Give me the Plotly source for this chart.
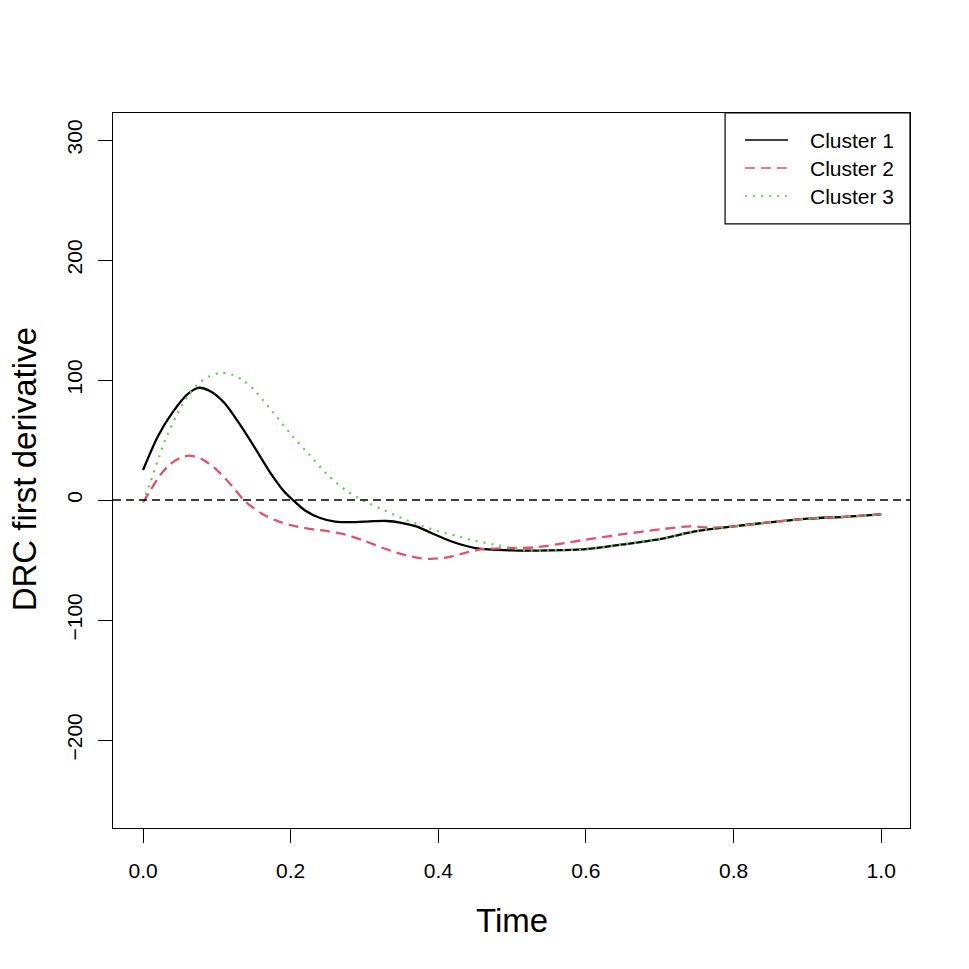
import plotly.graph_objects as go

# Cluster 1 (black, solid)
t1 = [0.0, 0.02, 0.04, 0.06, 0.075, 0.09, 0.11, 0.13, 0.15, 0.17, 0.19, 0.203,
      0.22, 0.24, 0.26, 0.28, 0.30, 0.33, 0.35, 0.37, 0.40, 0.42, 0.45, 0.50,
      0.55, 0.60, 0.65, 0.70, 0.75, 0.80, 0.85, 0.90, 0.95, 1.0]
v1 = [25, 53, 73, 88, 93.5, 91, 81, 64, 45, 25, 8, 0,
      -9, -15, -18, -18.5, -18, -17.5, -19, -22, -30, -35, -40, -42,
      -42, -41, -37, -32.5, -26, -22, -18.5, -15.5, -14, -12]

# Cluster 2 (red, dashed)
t2 = [0.0, 0.01, 0.02, 0.035, 0.05, 0.063, 0.08, 0.10, 0.12, 0.138, 0.16, 0.18,
      0.20, 0.225, 0.25, 0.275, 0.30, 0.325, 0.35, 0.375, 0.39, 0.41, 0.43, 0.46,
      0.50, 0.53, 0.56, 0.60, 0.65, 0.70, 0.74, 0.77, 0.80, 0.85, 0.90, 0.95, 1.0]
v2 = [-2, 8, 18, 29, 35, 37, 34, 25, 12, -1, -11, -17,
      -21, -24, -26, -29, -34, -40, -45, -48.5, -49, -48, -45, -41,
      -40, -39.5, -37, -33, -28.5, -24.5, -22, -23, -22, -18.5, -15.5, -14, -12]

# Cluster 3 (green, dotted)
t3 = [0.0, 0.01, 0.02, 0.03, 0.045, 0.06, 0.075, 0.09, 0.105, 0.12, 0.135, 0.15,
      0.175, 0.20, 0.225, 0.25, 0.275, 0.30, 0.325, 0.35, 0.375, 0.40, 0.425, 0.45,
      0.475, 0.50, 0.52, 0.55, 0.60, 0.65, 0.70, 0.75, 0.80, 0.85, 0.90, 0.95, 1.0]
v3 = [-2, 15, 33, 50, 70, 86, 97, 103, 106, 104.5, 100, 92,
      74, 55, 38, 21, 8, -1, -8, -15, -21, -26, -30, -34,
      -37, -40, -42, -42, -41, -37, -32.5, -26, -22, -18.5, -15.5, -14, -12]

x_ticks = [0.0, 0.2, 0.4, 0.6, 0.8, 1.0]
y_ticks = [-200, -100, 0, 100, 200, 300]

names = ["Cluster 1", "Cluster 2", "Cluster 3"]
colors = ["black", "#DF536B", "#61D04F"]
dashes = ["solid", "10px,6px", "2px,6px"]

FONT = "Liberation Sans"

fig = go.Figure()

for t, v, name, col, dsh in zip([t1, t2, t3], [v1, v2, v3], names, colors, dashes):
    fig.add_trace(go.Scatter(x=t, y=v, mode="lines", name=name, showlegend=False,
                             line=dict(color=col, width=2.3, dash=dsh,
                                       shape="spline", smoothing=0.8)))

# horizontal reference line at zero
fig.add_hline(y=0, line=dict(color="black", width=1.6, dash="8px,5px"))

axis_common = dict(showline=True, linecolor="black", linewidth=1.2, mirror=True,
                   ticks="outside", ticklen=14, tickwidth=1.2, tickcolor="black",
                   showgrid=False, zeroline=False,
                   tickfont=dict(family=FONT, size=21, color="black"))

fig.update_xaxes(range=[-0.0407, 1.039], tickvals=x_ticks, tickformat=".1f",
                 ticklabelstandoff=10, **axis_common)
fig.update_yaxes(range=[-273.3, 322.5], tickvals=y_ticks, tickangle=-90,
                 ticklabelstandoff=8, **axis_common)

fig.add_annotation(text="Time", xref="paper", yref="paper", x=0.5, y=-0.129,
                   showarrow=False, xanchor="center", yanchor="middle",
                   font=dict(family=FONT, size=33, color="black"))
fig.add_annotation(text="DRC first derivative", xref="paper", yref="paper",
                   x=-0.111, y=0.501, textangle=-90, showarrow=False,
                   xanchor="center", yanchor="middle",
                   font=dict(family=FONT, size=33, color="black"))

# legend box drawn like R's legend()
fig.add_shape(type="rect", xref="paper", yref="paper", x0=0.768, x1=1.0,
              y0=0.845, y1=1.0, line=dict(color="black", width=1.2),
              fillcolor="white", layer="above")
for i, (name, col, dsh) in enumerate(zip(names, colors, dashes)):
    ly = 0.9622 - i * 0.0392
    fig.add_shape(type="line", xref="paper", yref="paper", x0=0.793, x1=0.847,
                  y0=ly, y1=ly, line=dict(color=col, width=1.6, dash=dsh),
                  layer="above")
    fig.add_annotation(text=name, xref="paper", yref="paper", x=0.872, y=ly,
                       xanchor="left", yanchor="middle", showarrow=False,
                       font=dict(family=FONT, size=21, color="black"))

fig.update_layout(
    width=969, height=969,
    margin=dict(l=105, r=67, t=105, b=149),
    plot_bgcolor="white", paper_bgcolor="white",
    font=dict(family=FONT, color="black"),
    showlegend=False,
)

fig.write_html("out.html")
